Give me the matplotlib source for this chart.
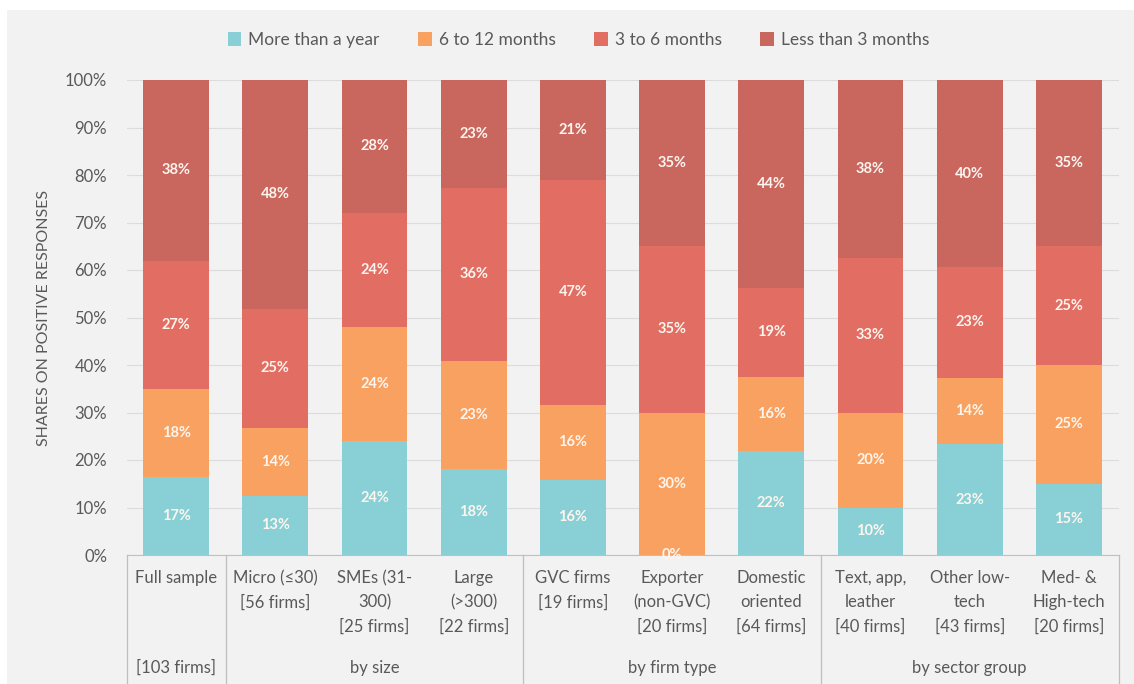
import matplotlib.pyplot as plt
import matplotlib.transforms as mtransforms
from matplotlib.patches import Rectangle
import numpy as np

plt.rcParams['font.family'] = ['Lato', 'DejaVu Sans']

# categories (line1..line3 of the tick label, bottom line handled separately)
cat_labels = ['Full sample', 'Micro (≤30)\n[56 firms]', 'SMEs (31-\n300)\n[25 firms]',
              'Large\n(>300)\n[22 firms]', 'GVC firms\n[19 firms]', 'Exporter\n(non-GVC)\n[20 firms]',
              'Domestic\noriented\n[64 firms]', 'Text, app,\nleather\n[40 firms]',
              'Other low-\ntech\n[43 firms]', 'Med- &\nHigh-tech\n[20 firms]']
group_labels = ['[103 firms]', 'by size', 'by firm type', 'by sector group']
group_spans = [(0, 0), (1, 3), (4, 6), (7, 9)]

series_names = ['More than a year', '6 to 12 months', '3 to 6 months', 'Less than 3 months']
more_year = [16.5, 12.5, 24.0, 18.2, 15.8, 0.0, 21.9, 10.0, 23.3, 15.0]
m6_12 = [18.5, 14.3, 24.0, 22.7, 15.8, 30.0, 15.6, 20.0, 14.0, 25.0]
m3_6 = [27.0, 25.0, 24.0, 36.4, 47.4, 35.0, 18.8, 32.5, 23.3, 25.0]
less3 = [38.0, 48.2, 28.0, 22.7, 21.0, 35.0, 43.7, 37.5, 39.4, 35.0]
shown = [[17, 13, 24, 18, 16, 0, 22, 10, 23, 15],
         [18, 14, 24, 23, 16, 30, 16, 20, 14, 25],
         [27, 25, 24, 36, 47, 35, 19, 33, 23, 25],
         [38, 48, 28, 23, 21, 35, 44, 38, 40, 35]]

colors = ['#88D0D5', '#F9A160', '#E26D63', '#C9675F']

W, H = 1134, 684
fig = plt.figure(figsize=(W / 100, H / 100), dpi=100, facecolor='white')
fig.patches.append(Rectangle((7 / W, 0), 1 - 7 / W, 1 - 10 / H, transform=fig.transFigure,
                             facecolor='#F2F2F2', edgecolor='none', zorder=-10))

ax = fig.add_axes([126.5 / W, (H - 555) / H, 992 / W, 475 / H])
ax.set_zorder(1)
ax.set_facecolor('none')

x = np.arange(len(cat_labels))
data = [more_year, m6_12, m3_6, less3]
bottom = np.zeros(len(x))
for vals, name, col, lab in zip(data, series_names, colors, shown):
    vals = np.array(vals)
    ax.bar(x, vals, 0.665, bottom=bottom, color=col, label=name, zorder=3)
    for xi, b, v, l in zip(x, bottom, vals, lab):
        ax.text(xi, b + v / 2, f'{l}%', ha='center', va='center', color='#FDF5EE',
                fontsize=10.5, fontweight='bold', zorder=4)
    bottom += vals

ax.set_xlim(-0.5, len(x) - 0.5)
ax.set_ylim(0, 100)
ax.set_yticks(np.arange(0, 101, 10))
ax.set_yticklabels([f'{t}%' for t in range(0, 101, 10)])
ax.tick_params(axis='y', length=0, labelsize=12, labelcolor='#595959', pad=14)
ax.yaxis.grid(True, color='#DCDCDC', linewidth=0.8, zorder=0)
ax.set_axisbelow(True)
ax.set_xticks([])
for s in ['top', 'right', 'left']:
    ax.spines[s].set_visible(False)
ax.spines['bottom'].set_color('#BFBFBF')
ax.set_ylabel('SHARES ON POSITIVE RESPONSES', fontsize=11.5, color='#595959', labelpad=10)

# category labels under axis
trans = mtransforms.blended_transform_factory(ax.transData, ax.transAxes)
px = 1 / 475
for xi, lab in zip(x, cat_labels):
    ax.text(xi, -15 * px, lab, transform=trans, ha='center', va='top', fontsize=12,
            color='#595959', linespacing=1.62)
for (a, b), lab in zip(group_spans, group_labels):
    ax.text((a + b) / 2, -113 * px, lab, transform=trans, ha='center', va='center',
            fontsize=12, color='#595959')
for sx in [-0.5, 0.5, 3.5, 6.5, 9.5]:
    ax.plot([sx, sx], [0, -129 * px], transform=trans, color='#BFBFBF', lw=0.9, clip_on=False)

fig.legend(*ax.get_legend_handles_labels(), loc='center', bbox_to_anchor=(0.51, 1 - 40 / H),
           ncol=4, frameon=False, fontsize=12.5, handlelength=0.8, handleheight=0.8,
           columnspacing=2.2, handletextpad=0.4, labelcolor='#595959')

fig.savefig('out.png', dpi=100, facecolor=fig.get_facecolor())
